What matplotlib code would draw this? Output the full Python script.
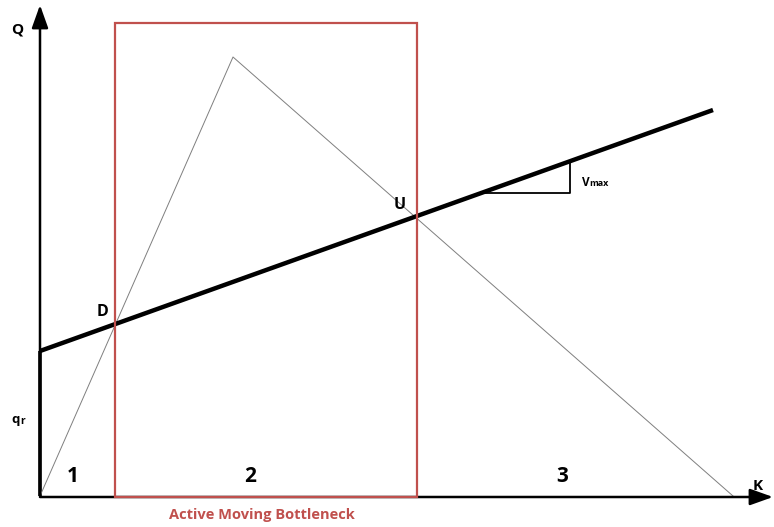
import matplotlib.pyplot as plt
from matplotlib.patches import Rectangle

# --------------------------------------------------
# DIAGRAM VALUES (K = density, Q = flow), origin at 0,0
# --------------------------------------------------

fd_k = [0, 193, 693]          # fundamental diagram (triangle)
fd_q = [0, 439, 0]

mb_k = [0, 673]               # moving bottleneck line
mb_q = [145, 386]

rect_k = [75, 377]            # active moving bottleneck region
rect_q = [-1, 473]

slope_k = [442, 530]          # vmax slope triangle
slope_q = [303, 303, 335]

point_names = ["D", "U"]
point_k = [63, 360]
point_q = [184, 291]

region_names = ["1", "2", "3"]
region_k = [33, 210, 522]
region_q = [19, 19, 20]

RED = "#c0504d"

plt.rcParams["font.family"] = ["Open Sans", "DejaVu Sans"]

fig = plt.figure(figsize=(7.74, 5.27), dpi=100)
ax = fig.add_axes([0, 0, 1, 1])
ax.set_xlim(-40, 734)
ax.set_ylim(-31, 496)
ax.axis("off")

# axes with arrows
arrow = dict(arrowstyle="-|>,head_length=0.7,head_width=0.25",
             color="black", lw=1.8, mutation_scale=20, shrinkA=0, shrinkB=0)
ax.annotate("", xy=(0, 491), xytext=(0, 0), arrowprops=arrow)
ax.annotate("", xy=(733, -1), xytext=(0, -1), arrowprops=arrow)
ax.plot([0, 0], [0, mb_q[0]], color="black", lw=2.6, solid_capstyle="butt")

# fundamental diagram
ax.plot(fd_k, fd_q, color="#7f7f7f", lw=0.7)

# moving bottleneck line
ax.plot(mb_k, mb_q, color="black", lw=3.2, solid_capstyle="butt")

# vmax triangle
ax.plot([slope_k[0], slope_k[1], slope_k[1]], slope_q, color="black", lw=1.3)
ax.text(slope_k[1] + 12, 314, "V", fontsize=8.5, fontweight="bold", va="center")
ax.text(slope_k[1] + 19.5, 312.5, "max", fontsize=6.5, fontweight="bold", va="center")

# active moving bottleneck box
ax.add_patch(Rectangle((rect_k[0], rect_q[0]), rect_k[1] - rect_k[0],
                       rect_q[1] - rect_q[0], fill=False, edgecolor=RED,
                       lw=1.6, zorder=4))
ax.text(sum(rect_k) / 2 - 4, -19, "Active Moving Bottleneck", color=RED,
        fontsize=10.5, fontweight="bold", ha="center", va="center")

for name, k, q in zip(point_names, point_k, point_q):
    ax.text(k, q, name, fontsize=11.5, fontweight="bold", ha="center", va="center")

for name, k, q in zip(region_names, region_k, region_q):
    ax.text(k, q, name, fontsize=15, fontweight="bold", ha="center", va="center")

ax.text(-23, 466, "Q", fontsize=11, fontweight="bold", ha="center", va="center")
ax.text(718, 10, "K", fontsize=11, fontweight="bold", ha="center", va="center")
ax.text(-20, 76, "q", fontsize=9.5, fontweight="bold", ha="right", va="center")
ax.text(-20, 75, "r", fontsize=7.5, fontweight="bold", ha="left", va="center")

fig.savefig("out.png", dpi=100)
plt.close(fig)
